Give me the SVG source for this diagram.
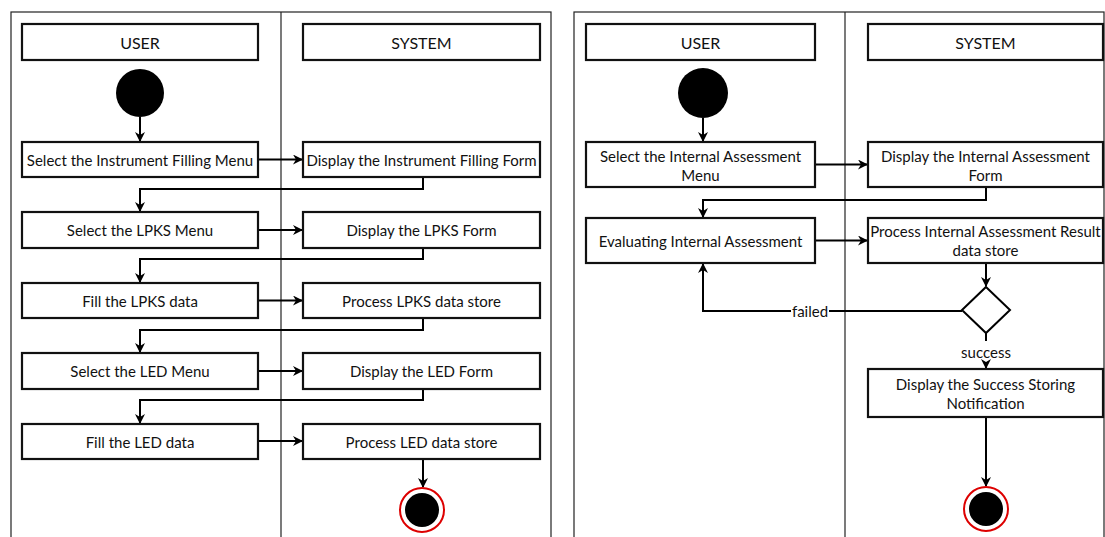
<svg xmlns="http://www.w3.org/2000/svg" width="1105" height="537" viewBox="0 0 1105 537">
<defs>
<style>
.frame{fill:none;stroke:#222;stroke-width:1.2}
.box{fill:#fff;stroke:#111;stroke-width:2.2}
.t{font-family:Lato,"Noto Sans",sans-serif;font-size:15px;fill:#111;text-anchor:middle;dominant-baseline:central}
.h{font-family:Lato,"Noto Sans",sans-serif;font-size:16px;fill:#111;text-anchor:middle;dominant-baseline:central}
.c{fill:none;stroke:#000;stroke-width:2}
</style>
<marker id="ar" viewBox="0 0 10 10" refX="9" refY="5" markerWidth="10" markerHeight="10" markerUnits="userSpaceOnUse" orient="auto">
<path d="M0,0 L10,5 L0,10 L3,5 Z" fill="#000"/>
</marker>
</defs>
<rect width="1105" height="537" fill="#fff"/>
<g id="frames">
<rect class="frame" x="11" y="12" width="540" height="540"/>
<line class="frame" x1="281" y1="12" x2="281" y2="537"/>
<rect class="frame" x="574" y="12" width="530" height="540"/>
<line class="frame" x1="845" y1="12" x2="845" y2="537"/>
</g>
<g id="connectors">
<path class="c" d="M140,117 V141" marker-end="url(#ar)"/>
<path class="c" d="M258,159.5 H302" marker-end="url(#ar)"/>
<path class="c" d="M423,177 V189 H140 V211" marker-end="url(#ar)"/>
<path class="c" d="M258,230 H302" marker-end="url(#ar)"/>
<path class="c" d="M423,248 V259 H140 V282" marker-end="url(#ar)"/>
<path class="c" d="M258,300.5 H302" marker-end="url(#ar)"/>
<path class="c" d="M423,318 V330 H140 V352" marker-end="url(#ar)"/>
<path class="c" d="M258,371 H302" marker-end="url(#ar)"/>
<path class="c" d="M423,389 V400 H140 V423" marker-end="url(#ar)"/>
<path class="c" d="M258,441 H302" marker-end="url(#ar)"/>
<path class="c" d="M423,459 V487" marker-end="url(#ar)"/>
<path class="c" d="M703,118 V141" marker-end="url(#ar)"/>
<path class="c" d="M815,164.5 H867" marker-end="url(#ar)"/>
<path class="c" d="M986,187 V200 H703 V217" marker-end="url(#ar)"/>
<path class="c" d="M815,240.5 H867" marker-end="url(#ar)"/>
<path class="c" d="M986,263 V286" marker-end="url(#ar)"/>
<path class="c" d="M962,311 H703 V264" marker-end="url(#ar)"/>
<rect x="791" y="303" width="38" height="16" fill="#fff"/>
<text class="t" x="810" y="311">failed</text>
<path class="c" d="M986,333 V341"/>
<text class="t" x="986" y="352">success</text>
<path class="c" d="M986,362 V368" marker-end="url(#ar)"/>
<path class="c" d="M986,417 V486" marker-end="url(#ar)"/>
</g>
<g id="left-user-header"><rect class="box" x="22" y="24" width="236" height="36"/><text class="h" x="140" y="42">USER</text></g>
<g id="left-system-header"><rect class="box" x="303" y="24" width="237" height="36"/><text class="h" x="421.5" y="42">SYSTEM</text></g>
<g id="left-start"><circle cx="140" cy="93" r="24" fill="#000"/></g>
<g id="l1"><rect class="box" x="22" y="142" width="236" height="35"/><text class="t" x="140" y="159.5">Select the Instrument Filling Menu</text></g>
<g id="s1"><rect class="box" x="303" y="142" width="237" height="35"/><text class="t" x="421.5" y="159.5">Display the Instrument Filling Form</text></g>
<g id="l2"><rect class="box" x="22" y="212" width="236" height="36"/><text class="t" x="140" y="230">Select the LPKS Menu</text></g>
<g id="s2"><rect class="box" x="303" y="212" width="237" height="36"/><text class="t" x="421.5" y="230">Display the LPKS Form</text></g>
<g id="l3"><rect class="box" x="22" y="283" width="236" height="35"/><text class="t" x="140" y="300.5">Fill the LPKS data</text></g>
<g id="s3"><rect class="box" x="303" y="283" width="237" height="35"/><text class="t" x="421.5" y="300.5">Process LPKS data store</text></g>
<g id="l4"><rect class="box" x="22" y="353" width="236" height="36"/><text class="t" x="140" y="371">Select the LED Menu</text></g>
<g id="s4"><rect class="box" x="303" y="353" width="237" height="36"/><text class="t" x="421.5" y="371">Display the LED Form</text></g>
<g id="l5"><rect class="box" x="22" y="424" width="236" height="35"/><text class="t" x="140" y="441.5">Fill the LED data</text></g>
<g id="s5"><rect class="box" x="303" y="424" width="237" height="35"/><text class="t" x="421.5" y="441.5">Process LED data store</text></g>
<g id="left-end"><circle cx="422" cy="510" r="22" fill="#fff" stroke="#d00" stroke-width="2"/><circle cx="422" cy="510" r="17" fill="#000"/></g>
<g id="right-user-header"><rect class="box" x="586" y="24" width="229" height="36"/><text class="h" x="700.5" y="42">USER</text></g>
<g id="right-system-header"><rect class="box" x="868" y="24" width="235" height="36"/><text class="h" x="985.5" y="42">SYSTEM</text></g>
<g id="right-start"><circle cx="703" cy="93" r="25" fill="#000"/></g>
<g id="r1"><rect class="box" x="586" y="142" width="229" height="45"/><text class="t" x="700.5" y="155.5">Select the Internal Assessment</text><text class="t" x="700.5" y="174.5">Menu</text></g>
<g id="rs1"><rect class="box" x="868" y="142" width="235" height="45"/><text class="t" x="985.5" y="155.5">Display the Internal Assessment</text><text class="t" x="985.5" y="174.5">Form</text></g>
<g id="r2"><rect class="box" x="586" y="218" width="229" height="45"/><text class="t" x="700.5" y="240.5">Evaluating Internal Assessment</text></g>
<g id="rs2"><rect class="box" x="868" y="218" width="235" height="45"/><text class="t" x="985.5" y="231">Process Internal Assessment Result</text><text class="t" x="985.5" y="250">data store</text></g>
<g id="decision"><path d="M986,287 L1010,310 L986,333 L962,310 Z" fill="#fff" stroke="#000" stroke-width="2"/></g>
<g id="rs3"><rect class="box" x="868" y="369" width="235" height="48"/><text class="t" x="985.5" y="384">Display the Success Storing</text><text class="t" x="985.5" y="403">Notification</text></g>
<g id="right-end"><circle cx="986" cy="509" r="22" fill="#fff" stroke="#d00" stroke-width="2"/><circle cx="986" cy="509" r="17" fill="#000"/></g>
</svg>
